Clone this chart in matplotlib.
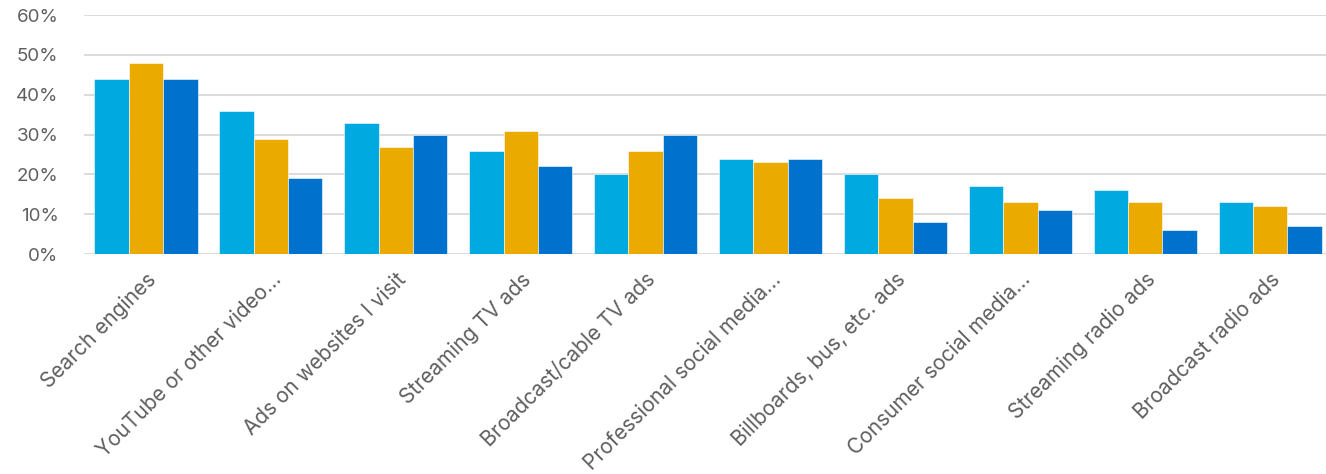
import matplotlib.pyplot as plt
import numpy as np
from matplotlib.ticker import PercentFormatter

plt.rcParams['font.family'] = ['Inter', 'DejaVu Sans']

categories = ["Search engines", "YouTube or other video...", "Ads on websites I visit",
              "Streaming TV ads", "Broadcast/cable TV ads", "Professional social media...",
              "Billboards, bus, etc. ads", "Consumer social media...", "Streaming radio ads",
              "Broadcast radio ads"]
series_a = [44, 36, 33, 26, 20, 24, 20, 17, 16, 13]
series_b = [48, 29, 27, 31, 26, 23, 14, 13, 13, 12]
series_c = [44, 19, 30, 22, 30, 24, 8, 11, 6, 7]
colors = ["#00A9E0", "#EAAA00", "#0072CE"]

fig = plt.figure(figsize=(13.26, 4.74), dpi=100)
ax = fig.add_axes([0.063, 0.464, 0.942, 0.504])

x = np.arange(len(categories))
w = 0.275
for i, (vals, c) in enumerate(zip([series_a, series_b, series_c], colors)):
    ax.bar(x + (i - 1) * w, vals, w, color=c, edgecolor="white", linewidth=0.4, zorder=3)

ax.set_xlim(-0.5, len(categories) - 0.5)
ax.set_ylim(0, 60)
ax.set_yticks(range(0, 61, 10))
ax.yaxis.set_major_formatter(PercentFormatter(decimals=0))
ax.grid(axis="y", color="#D9D9D9", linewidth=1.3, zorder=0)
for s in ax.spines.values():
    s.set_visible(False)
ax.tick_params(axis="both", length=0, labelsize=13.5, labelcolor="#5F5F5F")
ax.tick_params(axis="y", pad=18)
ax.set_xticks(x)
ax.set_xticklabels(categories, rotation=45, ha="right", rotation_mode="anchor")
ax.tick_params(axis="x", pad=11, labelsize=15)

fig.savefig("out.png", dpi=100)
